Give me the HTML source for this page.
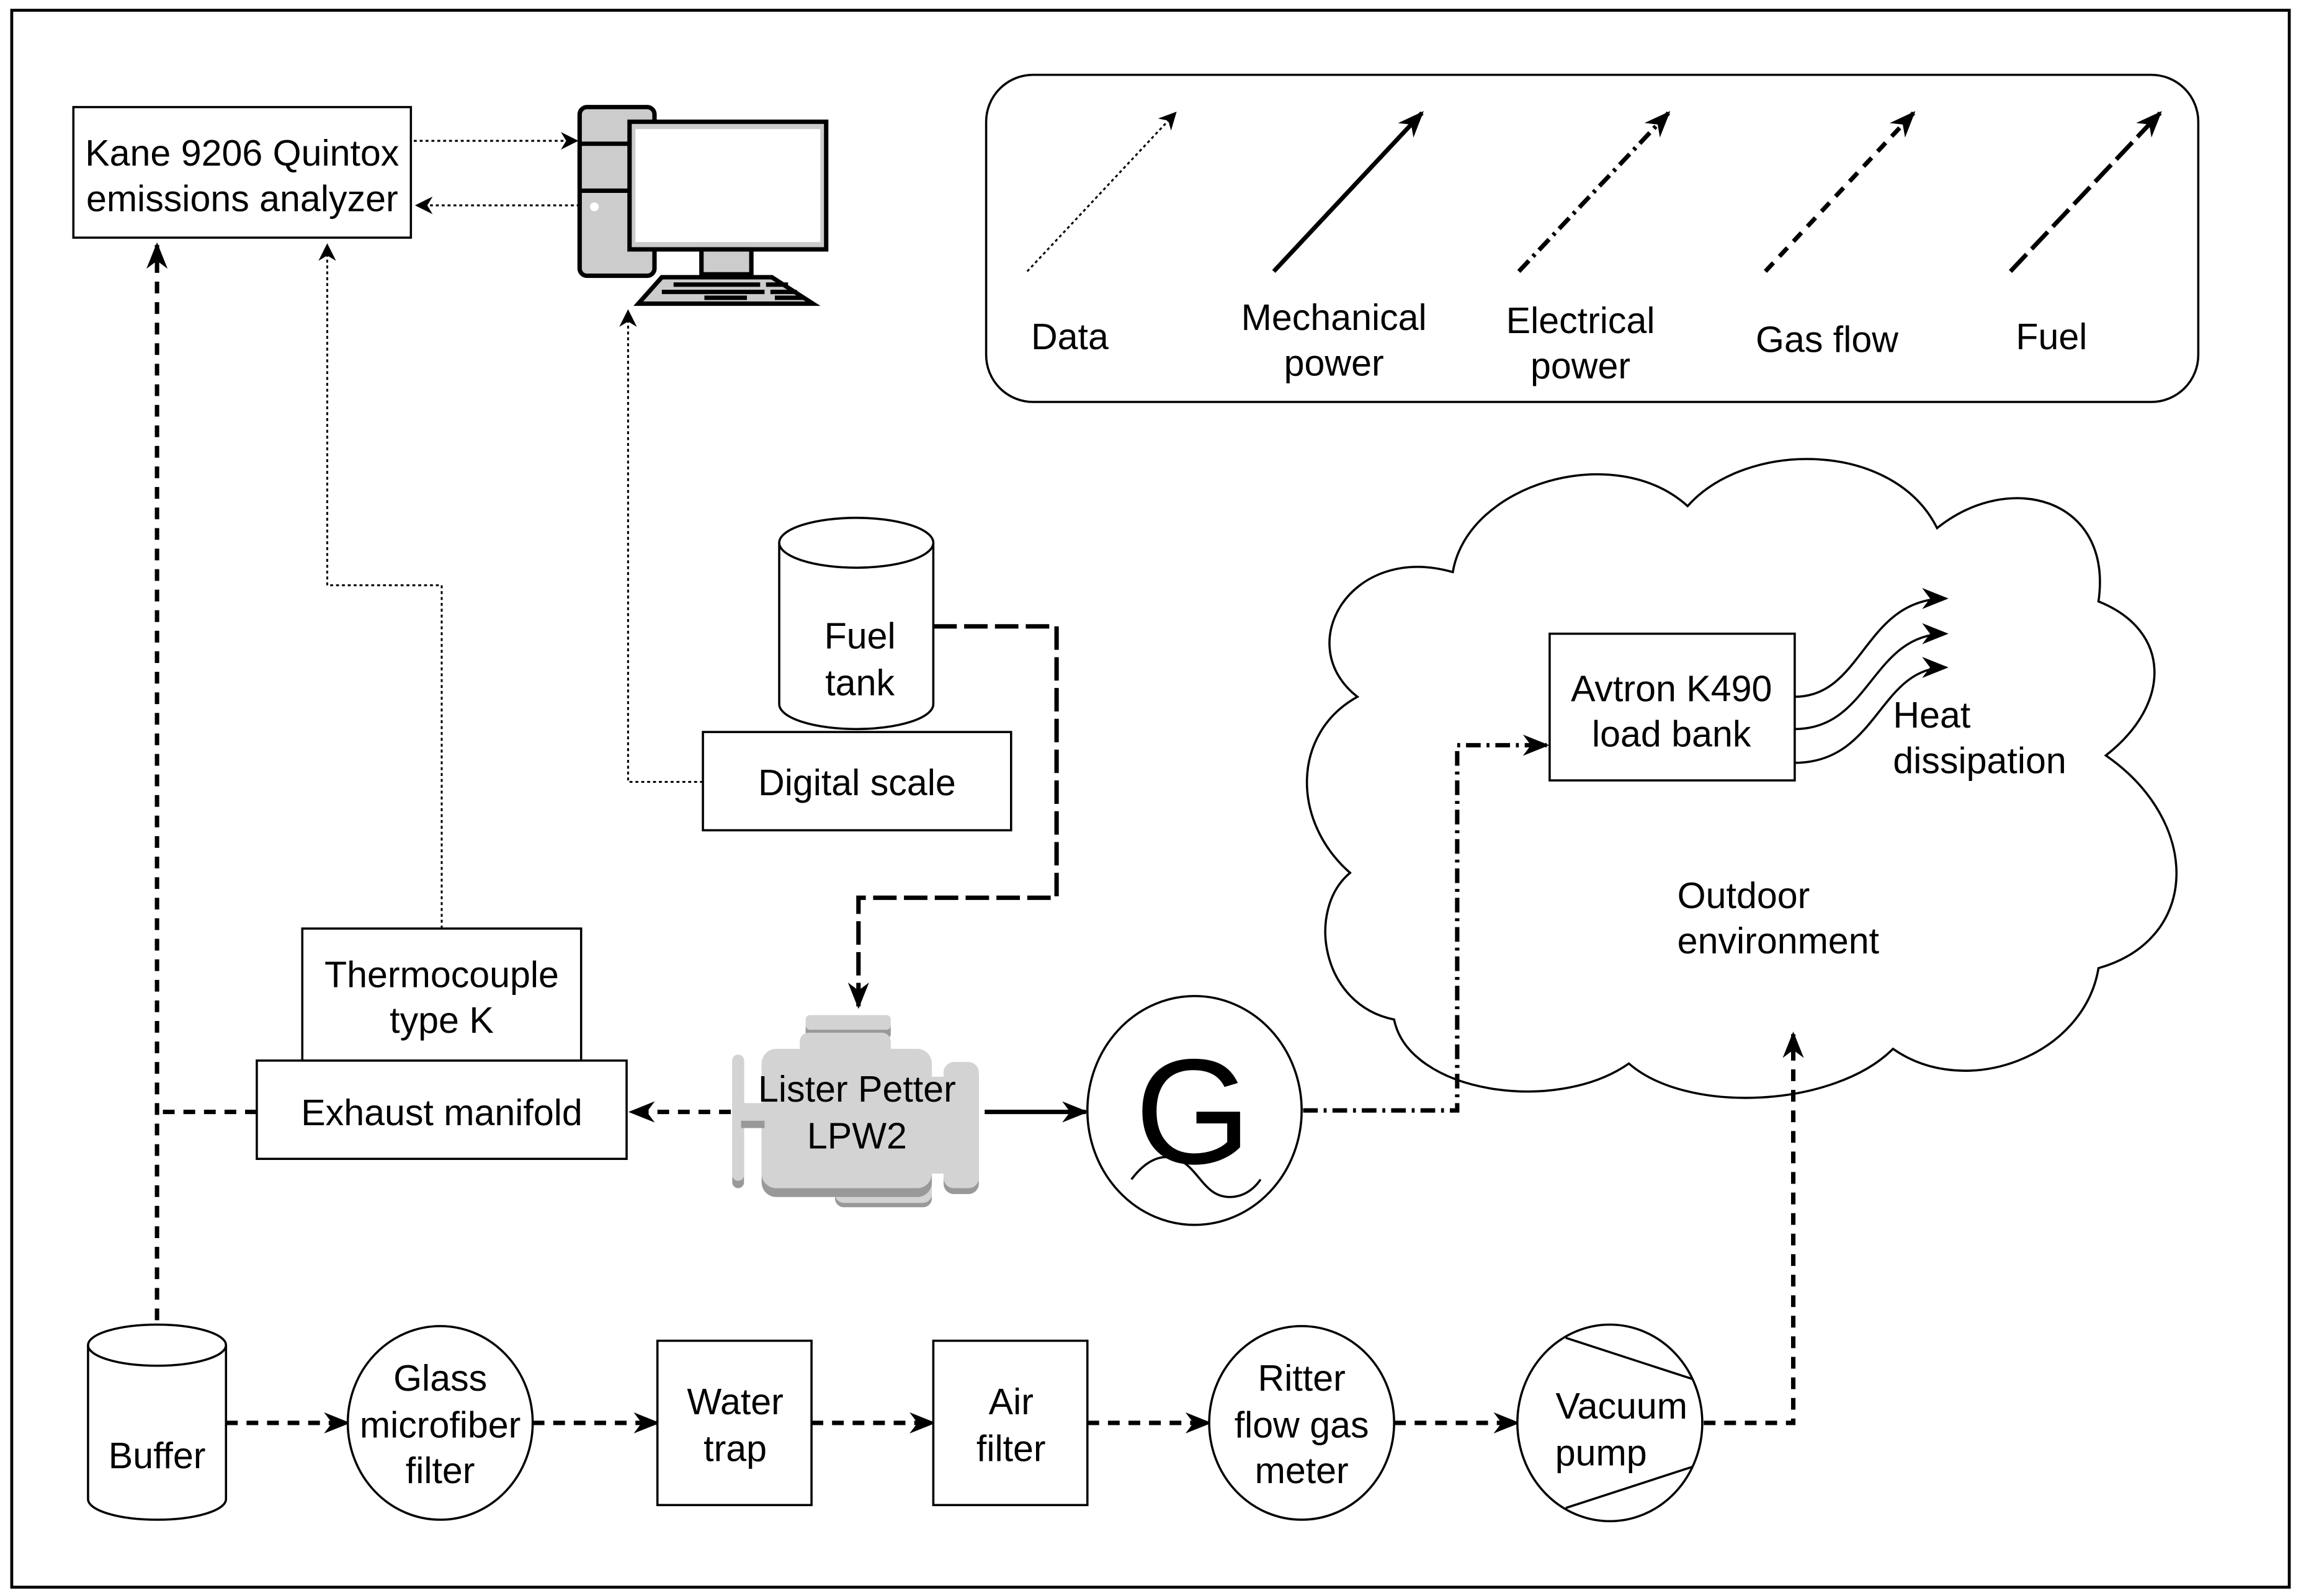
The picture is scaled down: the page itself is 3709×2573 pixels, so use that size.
<!DOCTYPE html>
<html><head><meta charset="utf-8"><style>html,body{margin:0;padding:0;background:#fff}svg{display:block}</style></head>
<body>
<svg width="3709" height="2573" viewBox="0 0 1568 1088" preserveAspectRatio="none" xmlns="http://www.w3.org/2000/svg" font-family="Liberation Sans, sans-serif" font-size="25" fill="none" stroke="#000">
<defs>
<marker id="s" viewBox="0 0 10 10" refX="9" refY="5" markerWidth="12" markerHeight="12" orient="auto" markerUnits="userSpaceOnUse">
<path d="M0,0 L10,5 L0,10 L3,5 z" fill="#000" stroke="none"/>
</marker>
<marker id="b" viewBox="0 0 10 10" refX="9" refY="5" markerWidth="18" markerHeight="18" orient="auto" markerUnits="userSpaceOnUse">
<path d="M0,1 L10,5 L0,9 L3,5 z" fill="#000" stroke="none"/>
</marker>
</defs>
<rect x="8" y="7" width="1552" height="1075" stroke-width="2"/>

<!-- cloud -->
<path d="M990,390 C1000,330 1100,300 1150,345 C1190,300 1290,300 1320,360 C1370,320 1440,340 1430,410 C1480,430 1480,480 1435,515 C1500,560 1500,640 1430,660 C1420,720 1340,750 1290,715 C1250,755 1150,760 1110,725 C1060,760 960,745 950,695 C900,685 890,620 920,595 C880,560 880,500 925,475 C880,440 920,370 990,390 Z" fill="#fff" stroke-width="1.5"/>

<!-- Kane -->
<rect x="50" y="73" width="230" height="89" stroke-width="1.5"/>
<g fill="#000" stroke="none" text-anchor="middle"><text x="165" y="113">Kane 9206 Quintox</text><text x="165" y="144">emissions analyzer</text></g>

<!-- computer -->
<rect x="395" y="73" width="51" height="115" rx="5" fill="#ccc" stroke-width="3"/>
<line x1="395" y1="98" x2="429" y2="98" stroke-width="3"/>
<line x1="395" y1="130" x2="429" y2="130" stroke-width="3"/>
<circle cx="405" cy="141" r="3" fill="#fff" stroke="none"/>
<rect x="429" y="83" width="134" height="87" fill="#ccc" stroke-width="3"/>
<rect x="433" y="88" width="126" height="77" fill="#fff" stroke="none"/>
<rect x="478" y="170" width="34" height="17" fill="#ccc" stroke-width="3"/>
<path d="M435,207 L451,189 L526,189 L554,207 Z" fill="#ccc" stroke-width="3"/>
<g stroke-width="3"><line x1="459" y1="194" x2="518" y2="194"/><line x1="522" y1="194" x2="537" y2="194"/><line x1="451" y1="199" x2="521" y2="199"/><line x1="525" y1="199" x2="543" y2="199"/><line x1="480" y1="203" x2="509" y2="203"/><line x1="528" y1="203" x2="548" y2="203"/></g>

<g stroke-width="1.3" stroke-dasharray="2 2">
<path d="M282,96 L393,96" marker-end="url(#s)"/>
<path d="M395,140 L284,140" marker-end="url(#s)"/>
<path d="M301,633 L301,399 L223,399 L223,167" marker-end="url(#s)"/>
<path d="M479,533 L428,533 L428,212" marker-end="url(#s)"/>
<path d="M700,185 L801,77" marker-end="url(#s)"/>
</g>

<!-- legend -->
<rect x="672" y="51" width="826" height="223" rx="32" stroke-width="1.5"/>
<path d="M868,185 L969,77" stroke-width="3" marker-end="url(#b)"/>
<path d="M1035,185 L1137,77" stroke-width="3" stroke-dasharray="10 4 2 4" marker-end="url(#b)"/>
<path d="M1203,185 L1304,77" stroke-width="3" stroke-dasharray="8 6" marker-end="url(#b)"/>
<path d="M1370,185 L1472,77" stroke-width="3" stroke-dasharray="16 5" marker-end="url(#b)"/>
<g fill="#000" stroke="none" text-anchor="middle">
<text x="729" y="238">Data</text>
<text x="909" y="225">Mechanical</text><text x="909" y="256">power</text>
<text x="1077" y="227">Electrical</text><text x="1077" y="258">power</text>
<text x="1245" y="240">Gas flow</text>
<text x="1398" y="238">Fuel</text>
</g>

<!-- gas flow -->
<g stroke-width="3" stroke-dasharray="8 6">
<path d="M107,900 L107,167" marker-end="url(#b)"/>
<path d="M175,758 L107,758"/>
<path d="M498,758 L430,758" marker-end="url(#b)"/>
<path d="M154,970 L237,970" marker-end="url(#b)"/>
<path d="M363,970 L448,970" marker-end="url(#b)"/>
<path d="M553,970 L636,970" marker-end="url(#b)"/>
<path d="M741,970 L824,970" marker-end="url(#b)"/>
<path d="M950,970 L1034,970" marker-end="url(#b)"/>
<path d="M1161,970 L1222,970 L1222,705" marker-end="url(#b)"/>
</g>

<!-- thermocouple / manifold -->
<rect x="206" y="633" width="190" height="90" stroke-width="1.5"/>
<rect x="175" y="723" width="252" height="67" stroke-width="1.5"/>
<g fill="#000" stroke="none" text-anchor="middle"><text x="301" y="673">Thermocouple</text><text x="301" y="704">type K</text><text x="301" y="767">Exhaust manifold</text></g>

<!-- fuel tank -->
<path d="M531,370 L531,480 A52.5,17 0 0 0 636,480 L636,370" fill="#fff" stroke-width="1.5"/>
<ellipse cx="583.5" cy="370" rx="52.5" ry="17" fill="#fff" stroke-width="1.5"/>
<g fill="#000" stroke="none" text-anchor="middle"><text x="586" y="442">Fuel</text><text x="586" y="474">tank</text></g>
<rect x="479" y="499" width="210" height="67" fill="#fff" stroke-width="1.5"/>
<text x="584" y="542" fill="#000" stroke="none" text-anchor="middle">Digital scale</text>
<path d="M636,427 L720,427 L720,612 L585,612 L585,686" stroke-width="3" stroke-dasharray="16 5" marker-end="url(#b)"/>

<!-- engine -->
<g stroke="none">
<rect x="549" y="696" width="58" height="12" rx="3" fill="#999"/>
<rect x="549" y="692" width="58" height="10" rx="3" fill="#d3d3d3"/>
<rect x="545" y="704" width="62" height="20" rx="6" fill="#d3d3d3"/>
<rect x="569" y="760" width="66" height="63" rx="6" fill="#999"/>
<rect x="569" y="760" width="66" height="60" rx="6" fill="#d3d3d3"/>
<rect x="519" y="718" width="116" height="98" rx="10" fill="#999"/>
<rect x="519" y="715" width="116" height="95" rx="10" fill="#d3d3d3"/>
<rect x="633" y="734" width="14" height="66" fill="#d3d3d3"/>
<rect x="643" y="727" width="24" height="87" rx="7" fill="#999"/>
<rect x="643" y="724" width="24" height="86" rx="7" fill="#d3d3d3"/>
<rect x="499" y="719" width="8" height="91" rx="4" fill="#999"/>
<rect x="499" y="719" width="8" height="86" rx="4" fill="#d3d3d3"/>
<rect x="505" y="752" width="16" height="12" fill="#d3d3d3"/>
<rect x="505" y="764" width="16" height="5" fill="#999"/>
</g>
<g fill="#000" stroke="none" text-anchor="middle"><text x="584" y="751">Lister Petter</text><text x="584" y="783">LPW2</text></g>
<path d="M671,758 L740,758" stroke-width="3" marker-end="url(#b)"/>

<!-- generator -->
<ellipse cx="814" cy="757" rx="73" ry="78" stroke-width="1.5"/>
<text x="813" y="793" font-size="102" fill="#000" stroke="none" text-anchor="middle">G</text>
<path d="M771,804 C780,792 792,784 806,792 C818,800 822,816 838,816 C848,816 855,810 859,804" stroke-width="1.5"/>
<path d="M888,757 L993,757 L993,508 L1054,508" stroke-width="3" stroke-dasharray="10 4 2 4" marker-end="url(#b)"/>

<rect x="1056" y="432" width="167" height="100" fill="#fff" stroke-width="1.5"/>
<g fill="#000" stroke="none" text-anchor="middle"><text x="1139" y="478">Avtron K490</text><text x="1139" y="509">load bank</text></g>
<g stroke-width="1.5">
<path d="M1223,475 C1270,475 1270,408 1326,408" marker-end="url(#b)"/>
<path d="M1223,497 C1275,497 1275,432 1326,432" marker-end="url(#b)"/>
<path d="M1223,520 C1280,520 1280,455 1326,455" marker-end="url(#b)"/>
</g>
<g fill="#000" stroke="none"><text x="1290" y="496">Heat</text><text x="1290" y="527">dissipation</text><text x="1143" y="619">Outdoor</text><text x="1143" y="650">environment</text></g>

<!-- bottom row -->
<path d="M60,917 L60,1022 A47,14 0 0 0 154,1022 L154,917" fill="#fff" stroke-width="1.5"/>
<ellipse cx="107" cy="917" rx="47" ry="14" fill="#fff" stroke-width="1.5"/>
<text x="107" y="1001" fill="#000" stroke="none" text-anchor="middle">Buffer</text>
<ellipse cx="300" cy="970" rx="63" ry="66" fill="#fff" stroke-width="1.5"/>
<g fill="#000" stroke="none" text-anchor="middle"><text x="300" y="948">Glass</text><text x="300" y="980">microfiber</text><text x="300" y="1011">filter</text></g>
<rect x="448" y="914" width="105" height="112" fill="#fff" stroke-width="1.5"/>
<g fill="#000" stroke="none" text-anchor="middle"><text x="501" y="964">Water</text><text x="501" y="996">trap</text></g>
<rect x="636" y="914" width="105" height="112" fill="#fff" stroke-width="1.5"/>
<g fill="#000" stroke="none" text-anchor="middle"><text x="689" y="964">Air</text><text x="689" y="996">filter</text></g>
<ellipse cx="887" cy="970" rx="63" ry="66" fill="#fff" stroke-width="1.5"/>
<g fill="#000" stroke="none" text-anchor="middle"><text x="887" y="948">Ritter</text><text x="887" y="980">flow gas</text><text x="887" y="1011">meter</text></g>
<ellipse cx="1097" cy="970" rx="63" ry="67" fill="#fff" stroke-width="1.5"/>
<path d="M1067,912 L1153,940 M1153,1000 L1067,1028" stroke-width="1.5"/>
<g fill="#000" stroke="none" text-anchor="middle"><text x="1105" y="967">Vacuum</text><text x="1091" y="999">pump</text></g>
</svg>
</body></html>
